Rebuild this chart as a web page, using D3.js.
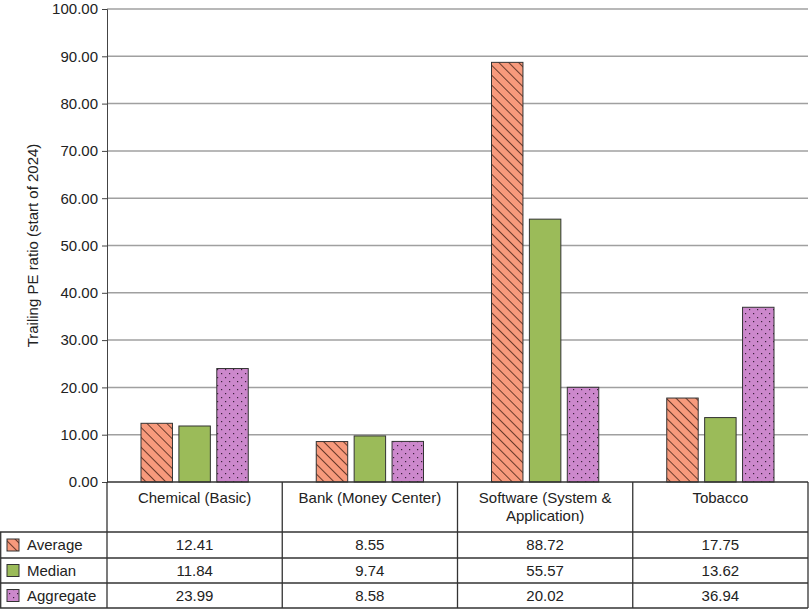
<!DOCTYPE html>
<html><head><meta charset="utf-8">
<script src="https://cdn.jsdelivr.net/npm/d3@7"></script>
<style>body{margin:0;background:#fff}text{font-family:"Liberation Sans",Arial,sans-serif;fill:#222}</style>
</head><body><svg id="c" width="809" height="609"></svg>
<script>
// chart data
var categories = ["Chemical (Basic)", "Bank (Money Center)", "Software (System & Application)", "Tobacco"];
var catLines = [["Chemical (Basic)"], ["Bank (Money Center)"], ["Software (System &", "Application)"], ["Tobacco"]];
var seriesNames = ["Average", "Median", "Aggregate"];
var average = [12.41, 8.55, 88.72, 17.75];
var median = [11.84, 9.74, 55.57, 13.62];
var aggregate = [23.99, 8.58, 20.02, 36.94];
var yTicks = [0, 10, 20, 30, 40, 50, 60, 70, 80, 90, 100];

var values = [average, median, aggregate];
var fills = ["url(#hatch)", "#9BBB59", "url(#dots)"];

var svg = d3.select("#c");
var padL = 107, padR = 808, padT = 9, padB = 482;

var defs = svg.append("defs");
var h = defs.append("pattern").attr("id", "hatch").attr("patternUnits", "userSpaceOnUse")
  .attr("width", 7).attr("height", 7).attr("patternTransform", "rotate(-45)");
h.append("rect").attr("width", 7).attr("height", 7).attr("fill", "#F79A7C");
h.append("line").attr("x1", 0).attr("y1", 0).attr("x2", 0).attr("y2", 7).attr("stroke", "#3a1a10").attr("stroke-width", 1.5);
var p = defs.append("pattern").attr("id", "dots").attr("patternUnits", "userSpaceOnUse").attr("width", 8).attr("height", 8);
p.append("rect").attr("width", 8).attr("height", 8).attr("fill", "#CC88CC");
p.append("rect").attr("x", 1).attr("y", 1).attr("width", 1.2).attr("height", 1.2).attr("fill", "#3a203a");
p.append("rect").attr("x", 5).attr("y", 5).attr("width", 1.2).attr("height", 1.2).attr("fill", "#3a203a");

var y = d3.scaleLinear().domain([0, 100]).range([padB, padT]);
var x0 = d3.scaleBand().domain(categories).range([padL, padR]);
var x1 = d3.scaleBand().domain(seriesNames).range([34, x0.bandwidth() - 34]).paddingInner(0.17);

// gridlines
svg.append("g").selectAll("line").data(yTicks.slice(1)).join("line")
  .attr("x1", padL).attr("x2", padR).attr("y1", d => y(d)).attr("y2", d => y(d))
  .attr("stroke", "#a0a0a0").attr("stroke-width", 1.5);

var yAxis = svg.append("g").attr("transform", "translate(" + padL + ",0)")
  .call(d3.axisLeft(y).tickValues(yTicks).tickFormat(d3.format(".2f")).tickSize(5).tickPadding(4));
yAxis.select(".domain").attr("stroke", "#444");
yAxis.selectAll(".tick line").attr("stroke", "#444");
yAxis.selectAll("text").attr("font-size", 15).style("fill", "#222").style("font-family", "Liberation Sans, Arial, sans-serif");

svg.append("text").attr("transform", "translate(38," + ((padT + padB) / 2) + ") rotate(-90)")
  .attr("text-anchor", "middle").attr("font-size", 15).text("Trailing PE ratio (start of 2024)");

// bars
seriesNames.forEach(function (s, si) {
  svg.append("g").selectAll("rect").data(values[si]).join("rect")
    .attr("x", (d, i) => x0(categories[i]) + x1(s))
    .attr("width", x1.bandwidth())
    .attr("y", d => y(d)).attr("height", d => padB - y(d))
    .attr("fill", fills[si]).attr("stroke", "#333").attr("stroke-width", 1);
});

// data table
var rowY = [532, 558, 583, 608];
var lc = "#333";
svg.append("line").attr("x1", padL).attr("x2", padR).attr("y1", padB).attr("y2", padB).attr("stroke", lc).attr("stroke-width", 1.3);
rowY.forEach(function (ry) {
  svg.append("line").attr("x1", 0).attr("x2", padR).attr("y1", ry).attr("y2", ry).attr("stroke", lc).attr("stroke-width", 1.3);
});
svg.append("line").attr("x1", 0.7).attr("x2", 0.7).attr("y1", rowY[0]).attr("y2", 608).attr("stroke", lc).attr("stroke-width", 1.3);
categories.concat(["end"]).forEach(function (c, i) {
  var xx = i < categories.length ? x0(c) : padR;
  svg.append("line").attr("x1", xx).attr("x2", xx).attr("y1", padB).attr("y2", 608).attr("stroke", lc).attr("stroke-width", 1.3);
});
catLines.forEach(function (lines, i) {
  var t = svg.append("text").attr("text-anchor", "middle").attr("font-size", 15);
  lines.forEach(function (l, j) {
    t.append("tspan").attr("x", x0(categories[i]) + x0.bandwidth() / 2).attr("y", 503 + j * 18).text(l);
  });
});
seriesNames.forEach(function (s, si) {
  var cy = (rowY[si] + rowY[si + 1]) / 2;
  svg.append("rect").attr("x", 7).attr("y", cy - 6).attr("width", 12).attr("height", 12)
    .attr("fill", fills[si]).attr("stroke", "#333");
  svg.append("text").attr("x", 27).attr("y", cy + 5).attr("font-size", 15).text(s);
  values[si].forEach(function (v, i) {
    svg.append("text").attr("x", x0(categories[i]) + x0.bandwidth() / 2).attr("y", cy + 5)
      .attr("text-anchor", "middle").attr("font-size", 15).text(v.toFixed(2));
  });
});
</script></body></html>
